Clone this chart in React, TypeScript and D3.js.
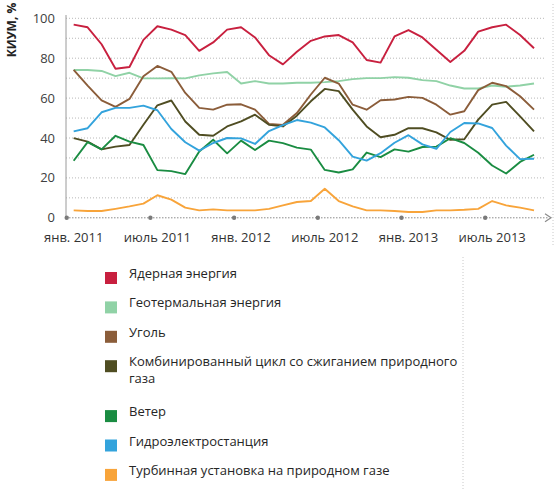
import React, { useRef, useEffect } from 'react';
import * as d3 from 'd3';

// monthly values, Jan 2011 .. Oct 2013
const nuclear = [96.8, 95.5, 87, 74.7, 75.6, 89.2, 96, 94.3, 91.6, 83.7, 87.9, 94.3, 95.5, 90.4, 81.5, 76.9, 83.2, 88.7, 90.9, 91.6, 87.9, 79.1, 77.8, 90.9, 94.1, 90.4, 84.2, 78.1, 83.7, 93.3, 95.5, 96.8, 91.6, 85];
const geothermal = [74.1, 74.1, 73.6, 71, 72.7, 69.9, 69.9, 70, 69.9, 71.4, 72.4, 73.1, 67.3, 68.5, 67.3, 67.3, 67.7, 67.7, 68, 68.5, 69.5, 70, 70, 70.5, 70.2, 69, 68.5, 66.3, 64.8, 64.8, 66.3, 65.7, 66.3, 67.3];
const coal = [74.1, 66.3, 58.9, 55.6, 59.6, 71, 76.1, 73.2, 62.6, 55.1, 54.2, 56.7, 56.9, 54.2, 47.1, 46.6, 52.5, 61.8, 70.2, 67.3, 56.7, 54.2, 58.9, 59.3, 60.6, 60.1, 56.7, 51.7, 53.4, 64, 67.7, 66, 60.9, 54.2];
const combinedCycle = [39.9, 38.2, 34.3, 35.7, 36.5, 46.6, 56.4, 58.8, 48.3, 41.6, 41.1, 45.8, 48.3, 51.7, 46.6, 45.8, 51.2, 58.4, 64.6, 63.5, 54.2, 45.8, 40.4, 41.6, 44.9, 44.9, 42.8, 39.1, 39.4, 49.2, 56.7, 58.1, 50.8, 43.3];
const wind = [28.6, 37.9, 34.3, 41.1, 38.2, 36.5, 23.9, 23.4, 21.9, 33.2, 39.1, 32.3, 38.7, 34, 38.7, 37.4, 35.2, 34.2, 24, 22.7, 24.3, 32.7, 30.4, 34.3, 33.2, 35.5, 35.7, 39.9, 37.5, 32.6, 26.2, 22.2, 28, 31.6];
const hydro = [43.3, 44.9, 52.9, 55.1, 55.1, 56.2, 53.9, 44.5, 37.9, 33.7, 37.5, 40, 39.8, 37, 43.5, 46.5, 49, 47.7, 45.3, 38.9, 30.7, 28.7, 32.4, 37.6, 41.4, 36.8, 34.6, 43, 47.5, 47.3, 45, 36.2, 29.4, 29.6];
const gasTurbine = [3.7, 3.4, 3.4, 4.5, 5.7, 7.1, 11.3, 9.1, 5.1, 3.7, 4.2, 3.7, 3.7, 3.7, 4.5, 6.2, 7.9, 8.4, 14.6, 8.4, 5.7, 3.7, 3.7, 3.4, 2.9, 2.9, 3.7, 3.7, 4, 4.5, 8.4, 6.2, 5.1, 3.7];

const months = d3.timeMonth.range(new Date(2011, 0, 1), new Date(2013, 10, 1));
const tickLabels = ["янв. 2011", "июль 2011", "янв. 2012", "июль 2012", "янв. 2013", "июль 2013"];
const tickIndex = [0, 6, 12, 18, 24, 30];
const yTicks = [0, 20, 40, 60, 80, 100];

const series = [
  { name: "Ядерная энергия", values: nuclear, color: "#c8203f" },
  { name: "Геотермальная энергия", values: geothermal, color: "#90d2a6" },
  { name: "Уголь", values: coal, color: "#8b5d3a" },
  { name: "Комбинированный цикл со сжиганием природного|газа", values: combinedCycle, color: "#4f4d22" },
  { name: "Ветер", values: wind, color: "#1a8c42" },
  { name: "Гидроэлектростанция", values: hydro, color: "#33a3dc" },
  { name: "Турбинная установка на природном газе", values: gasTurbine, color: "#f8a43a" },
];

const FONT = "'Open Sans', 'Noto Sans', sans-serif";

function App() {
  const svgRef = useRef(null);

  useEffect(() => {
    const svg = d3.select(svgRef.current);
    svg.selectAll("*").remove();

    const keys = months.map(d3.timeFormat("%Y-%m"));
    const x = d3.scaleBand().domain(keys).range([66.7, 541]).padding(0);
    const cx = (i) => x(keys[i]) + x.bandwidth() / 2;
    const y = d3.scaleLinear().domain([0, 100]).range([217.8, 18.3]);

    // dotted gridlines
    svg.append("g")
      .selectAll("line")
      .data(d3.range(10, 101, 10))
      .enter().append("line")
      .attr("x1", 66).attr("x2", 546)
      .attr("y1", d => y(d)).attr("y2", d => y(d))
      .attr("stroke", "#b8b8b8")
      .attr("stroke-width", 1)
      .attr("stroke-dasharray", "1 2");

    // faint frame lines
    svg.append("line")
      .attr("x1", 553).attr("x2", 553).attr("y1", 4).attr("y2", 246)
      .attr("stroke", "#c8c8c8").attr("stroke-dasharray", "1 2");
    svg.append("line")
      .attr("x1", 463).attr("x2", 463).attr("y1", 257).attr("y2", 490)
      .attr("stroke", "#c8c8c8").attr("stroke-dasharray", "1 2");

    // y axis
    svg.append("line")
      .attr("x1", 66).attr("x2", 66).attr("y1", 15).attr("y2", y(0))
      .attr("stroke", "#9a9a9a").attr("stroke-width", 1);

    // x baseline with arrow
    svg.append("line")
      .attr("x1", 66).attr("x2", 549).attr("y1", y(0)).attr("y2", y(0))
      .attr("stroke", "#8a8a8a").attr("stroke-width", 1)
      .attr("stroke-dasharray", "1.5 1.5");
    svg.append("path")
      .attr("d", `M${545},${y(0) - 4}L${551},${y(0)}L${545},${y(0) + 4}`)
      .attr("fill", "none").attr("stroke", "#8a8a8a").attr("stroke-width", 1.2);

    svg.append("g")
      .selectAll("circle")
      .data(tickIndex)
      .enter().append("circle")
      .attr("cx", d => x(keys[d]))
      .attr("cy", y(0))
      .attr("r", 2.2)
      .attr("fill", "#7a7a7a");

    // y tick labels
    svg.append("g")
      .attr("font-family", FONT)
      .attr("font-size", 13)
      .attr("fill", "#404040")
      .attr("text-anchor", "end")
      .selectAll("text")
      .data(yTicks)
      .enter().append("text")
      .attr("x", 55)
      .attr("y", d => y(d))
      .attr("dy", "0.35em")
      .text(d => d);

    svg.append("text")
      .attr("transform", "translate(16,30) rotate(-90)")
      .attr("text-anchor", "middle")
      .attr("font-family", FONT)
      .attr("font-size", 12)
      .attr("font-weight", "bold")
      .attr("fill", "#222")
      .text("КИУМ, %");

    // x tick labels
    svg.append("g")
      .attr("font-family", FONT)
      .attr("font-size", 13)
      .attr("fill", "#333")
      .attr("text-anchor", "middle")
      .selectAll("text")
      .data(tickIndex)
      .enter().append("text")
      .attr("x", (d, i) => cx(d))
      .attr("y", 242)
      .text((d, i) => tickLabels[i]);

    // lines
    const line = d3.line()
      .x((d, i) => cx(i))
      .y(d => y(d));

    series.forEach(s => {
      svg.append("path")
        .datum(s.values)
        .attr("fill", "none")
        .attr("stroke", s.color)
        .attr("stroke-width", 1.9)
        .attr("stroke-linejoin", "round")
        .attr("d", line);
    });

    // legend
    const legendY = (i) => 278 + 29.4 * i + (i >= 4 ? 20.5 : 0);
    const legend = svg.append("g")
      .attr("font-family", FONT)
      .attr("font-size", 13)
      .attr("fill", "#262626")
      .selectAll("g")
      .data(series)
      .enter().append("g")
      .attr("transform", (d, i) => `translate(0,${legendY(i)})`);

    legend.append("rect")
      .attr("x", 105).attr("y", -6)
      .attr("width", 12).attr("height", 12)
      .attr("fill", d => d.color);

    legend.append("text")
      .attr("x", 129)
      .attr("dy", "0.35em")
      .each(function (d) {
        const parts = d.name.split("|");
        d3.select(this).selectAll("tspan")
          .data(parts)
          .enter().append("tspan")
          .attr("x", 129)
          .attr("dy", (p, j) => (j === 0 ? 0 : 17))
          .text(p => p);
      });
  }, []);

  return (
    <>
      <style>{`body{margin:0}`}</style>
      <svg ref={svgRef} width={555} height={498} style={{ display: "block", background: "#fff" }} />
    </>
  );
}

export default App;
